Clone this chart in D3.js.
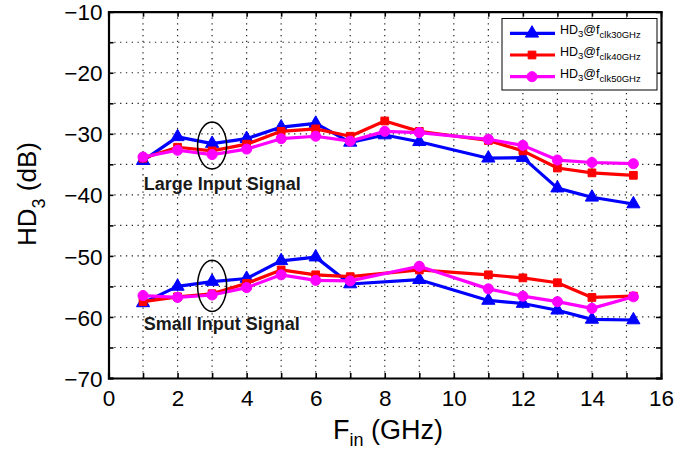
<!DOCTYPE html>
<html><head><meta charset="utf-8">
<script src="https://cdn.jsdelivr.net/npm/d3@7"></script>
<style>body{margin:0;background:#fff}svg{display:block}text{font-family:Arial,"Liberation Sans",sans-serif}</style>
</head><body>
<svg id="c" width="699" height="453"></svg>
<script>
const freqLarge = [1,2,3,4,5,6,7,8,9,11,12,13,14,15.2];
const large30 = [-34.4,-30.5,-31.6,-30.8,-28.9,-28.3,-31.4,-30.2,-31.3,-34.0,-33.9,-38.9,-40.4,-41.5];
const large40 = [-34.0,-32.2,-32.8,-31.7,-29.6,-29.2,-30.4,-27.9,-29.6,-31.1,-32.8,-35.6,-36.4,-36.8];
const large50 = [-33.8,-32.7,-33.4,-32.5,-30.8,-30.4,-31.2,-29.6,-29.8,-30.9,-31.9,-34.3,-34.7,-34.9];
const freqSmall = [1,2,3,4,5,6,7,9,11,12,13,14,15.2];
const small30 = [-57.7,-55.0,-54.2,-53.7,-50.8,-50.2,-54.6,-53.9,-57.3,-57.8,-58.9,-60.4,-60.5];
const small40 = [-57.5,-56.7,-56.2,-54.5,-52.3,-53.1,-53.4,-52.3,-53.1,-53.6,-54.4,-56.8,-56.6];
const small50 = [-56.5,-56.8,-56.4,-55.2,-53.1,-54.0,-54.1,-51.7,-55.4,-56.6,-57.5,-58.6,-56.7];
const seriesNames = ["clk30GHz","clk40GHz","clk50GHz"];
const xTicks = [0,2,4,6,8,10,12,14,16];
const yTicks = [-70,-60,-50,-40,-30,-20,-10];
const annotations = [{text:"Large Input Signal", x:1.02, y:-39.2, ex:3, ey:-31.9, rx:0.42, ry:3.85},
                     {text:"Small Input Signal", x:1.02, y:-62.1, ex:3, ey:-54.9, rx:0.42, ry:4.2}];

const colors = ["#0000ff","#ff0000","#ff00ff"];
const shapes = [d3.symbolTriangle, d3.symbolSquare, d3.symbolCircle];
const sizes = [75, 60, 80];

const svg = d3.select("#c");
const L=108.5, R=661, T=11.7, B=378;
const x = d3.scaleLinear().domain([0,16]).range([L,R]);
const y = d3.scaleLinear().domain([-70,-10]).range([B,T]);

svg.append("rect").attr("width",699).attr("height",453).attr("fill","#fff");

// grid
const g = svg.append("g");
g.selectAll(".gx").data(d3.range(1,16)).enter().append("line")
 .attr("x1",d=>x(d)).attr("x2",d=>x(d)).attr("y1",T).attr("y2",B)
 .attr("stroke","#222").attr("stroke-width",1.2).attr("stroke-dasharray","1.3,4.5");
g.selectAll(".gy").data(d3.range(-65,-10,5)).enter().append("line")
 .attr("y1",d=>y(d)).attr("y2",d=>y(d)).attr("x1",L).attr("x2",R)
 .attr("stroke","#222").attr("stroke-width",1.2).attr("stroke-dasharray","1.3,4.5");

// axes with inward ticks
const xb = d3.axisBottom(x).tickValues(d3.range(0,17)).tickSize(-5).tickFormat(d=> xTicks.includes(d)? d:"");
const xt = d3.axisTop(x).tickValues(d3.range(0,17)).tickSize(-5).tickFormat("");
const yl = d3.axisLeft(y).tickValues(d3.range(-70,-5,5)).tickSize(-5).tickFormat(d=> yTicks.includes(d)? String(d).replace("-","\u2212"):"");
const yr = d3.axisRight(y).tickValues(d3.range(-70,-5,5)).tickSize(-5).tickFormat("");
function style(sel){
  sel.select(".domain").attr("stroke","#000").attr("stroke-width",2.2);
  sel.selectAll(".tick line").attr("stroke","#000").attr("stroke-width",1.6);
  sel.selectAll(".tick text").attr("fill","#000").attr("font-size",22.5);
}
svg.append("g").attr("transform",`translate(0,${B})`).call(xb).call(style)
  .call(s=>s.selectAll(".tick text").attr("dy","0").attr("y",28));
svg.append("g").attr("transform",`translate(0,${T})`).call(xt).call(style);
svg.append("g").attr("transform",`translate(${L},0)`).call(yl).call(style)
  .call(s=>s.selectAll(".tick text").attr("x",-6).attr("dy","0.36em"));
svg.append("g").attr("transform",`translate(${R},0)`).call(yr).call(style);
svg.selectAll(".domain").attr("d", function(){ return d3.select(this).attr("d").replace(/V-?5|V5/g,"V0"); });

// data
const groups = [
  {f:freqLarge, s:[large30,large40,large50]},
  {f:freqSmall, s:[small30,small40,small50]}
];
const line = d3.line().x(d=>x(d[0])).y(d=>y(d[1]));
groups.forEach(gr=>{
  gr.s.forEach((vals,i)=>{
    const pts = gr.f.map((f,j)=>[f,vals[j]]);
    svg.append("path").attr("d",line(pts)).attr("fill","none")
      .attr("stroke",colors[i]).attr("stroke-width",3.2).attr("stroke-linejoin","round");
    svg.selectAll(null).data(pts).enter().append("path")
      .attr("transform",d=>`translate(${x(d[0])},${y(d[1])})`)
      .attr("d",d3.symbol().type(shapes[i]).size(sizes[i]))
      .attr("fill",colors[i]).attr("stroke",colors[i]).attr("stroke-width",1);
  });
});

// annotations
annotations.forEach(a=>{
  svg.append("ellipse").attr("cx",x(a.ex)).attr("cy",y(a.ey))
    .attr("rx",x(a.ex+a.rx)-x(a.ex)).attr("ry",y(a.ey-a.ry)-y(a.ey))
    .attr("fill","none").attr("stroke","#000").attr("stroke-width",1.5);
  svg.append("text").attr("x",x(a.x)).attr("y",y(a.y)).attr("font-size",18)
    .attr("font-weight","bold").attr("fill","#1a1a1a").text(a.text);
});

// legend
const lg = svg.append("g");
lg.append("rect").attr("x",502).attr("y",18.5).attr("width",155).attr("height",71.5)
  .attr("fill","#fff").attr("stroke","#000").attr("stroke-width",1);
seriesNames.forEach((n,i)=>{
  const cy = 33.3 + i*21.7;
  lg.append("line").attr("x1",510).attr("x2",555).attr("y1",cy).attr("y2",cy)
    .attr("stroke",colors[i]).attr("stroke-width",3.2);
  lg.append("path").attr("transform",`translate(532,${cy})`)
    .attr("d",d3.symbol().type(shapes[i]).size(sizes[i])).attr("fill",colors[i]).attr("stroke",colors[i]);
  const t = lg.append("text").attr("x",560).attr("y",cy+1).attr("font-size",12.5).attr("fill","#000");
  t.append("tspan").text("HD");
  t.append("tspan").attr("font-size",9.5).attr("dy",3).text("3");
  t.append("tspan").attr("dy",-3).text("@f");
  t.append("tspan").attr("font-size",9.5).attr("dy",4).text(n);
});

// axis titles
const xtitle = svg.append("text").attr("x",388).attr("y",439).attr("text-anchor","middle")
  .attr("font-size",27).attr("fill","#000");
xtitle.append("tspan").text("F");
xtitle.append("tspan").attr("font-size",18).attr("dy",7).text("in");
xtitle.append("tspan").attr("dy",-7).text(" (GHz)");
const ytitle = svg.append("text").attr("transform",`translate(35.5,194) rotate(-90)`)
  .attr("text-anchor","middle").attr("font-size",26).attr("fill","#000");
ytitle.append("tspan").text("HD");
ytitle.append("tspan").attr("font-size",18).attr("dy",9).text("3");
ytitle.append("tspan").attr("dy",-9).text(" (dB)");
</script>
</body></html>
